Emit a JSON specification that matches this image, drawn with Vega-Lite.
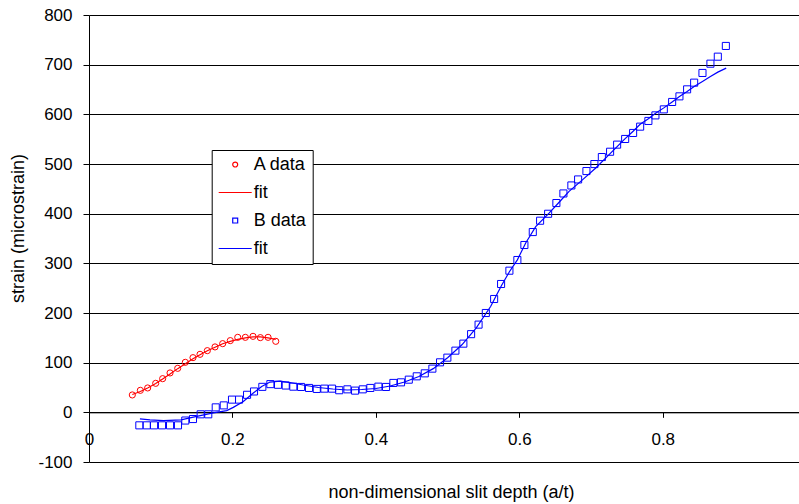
{
  "$schema": "https://vega.github.io/schema/vega-lite/v6.json",
  "autosize": {"type": "none"},
  "padding": {"left": 89, "top": 15, "right": 0, "bottom": 42},
  "width": 710,
  "height": 447,
  "background": "white",
  "config": {
    "view": {"stroke": null},
    "font": "Liberation Sans",
    "axis": {"labelFont": "Liberation Sans", "titleFont": "Liberation Sans", "labelColor": "#000", "titleColor": "#000", "titleFontWeight": "normal", "domainColor": "#000", "tickColor": "#000", "labelFontSize": 17, "titleFontSize": 18},
    "legend": {"labelFont": "Liberation Sans", "labelFontSize": 18, "labelColor": "#000"}
  },
  "data": {
    "values": [
      {"series": "A data", "x": 0.0604, "y": 35.0},
      {"series": "A data", "x": 0.0716, "y": 44.3},
      {"series": "A data", "x": 0.0818, "y": 49.1},
      {"series": "A data", "x": 0.0930, "y": 58.4},
      {"series": "A data", "x": 0.1027, "y": 67.8},
      {"series": "A data", "x": 0.1130, "y": 79.3},
      {"series": "A data", "x": 0.1237, "y": 88.6},
      {"series": "A data", "x": 0.1343, "y": 100.7},
      {"series": "A data", "x": 0.1450, "y": 110.1},
      {"series": "A data", "x": 0.1548, "y": 116.8},
      {"series": "A data", "x": 0.1650, "y": 124.2},
      {"series": "A data", "x": 0.1757, "y": 131.7},
      {"series": "A data", "x": 0.1864, "y": 138.3},
      {"series": "A data", "x": 0.1970, "y": 144.4},
      {"series": "A data", "x": 0.2074, "y": 151.0},
      {"series": "A data", "x": 0.2180, "y": 151.0},
      {"series": "A data", "x": 0.2287, "y": 153.0},
      {"series": "A data", "x": 0.2389, "y": 150.4},
      {"series": "A data", "x": 0.2497, "y": 151.0},
      {"series": "A data", "x": 0.2604, "y": 143.0},
      {"series": "A fit", "x": 0.0604, "y": 36},
      {"series": "A fit", "x": 0.0716, "y": 42},
      {"series": "A fit", "x": 0.0818, "y": 49},
      {"series": "A fit", "x": 0.0930, "y": 58},
      {"series": "A fit", "x": 0.1027, "y": 67},
      {"series": "A fit", "x": 0.1130, "y": 77},
      {"series": "A fit", "x": 0.1237, "y": 88},
      {"series": "A fit", "x": 0.1343, "y": 98},
      {"series": "A fit", "x": 0.1450, "y": 108},
      {"series": "A fit", "x": 0.1548, "y": 116},
      {"series": "A fit", "x": 0.1650, "y": 124},
      {"series": "A fit", "x": 0.1757, "y": 131},
      {"series": "A fit", "x": 0.1864, "y": 138},
      {"series": "A fit", "x": 0.1970, "y": 143},
      {"series": "A fit", "x": 0.2074, "y": 147},
      {"series": "A fit", "x": 0.2180, "y": 150},
      {"series": "A fit", "x": 0.2287, "y": 152},
      {"series": "A fit", "x": 0.2389, "y": 152},
      {"series": "A fit", "x": 0.2497, "y": 150},
      {"series": "A fit", "x": 0.2604, "y": 147},
      {"series": "B data", "x": 0.0702, "y": -26.2},
      {"series": "B data", "x": 0.0805, "y": -26.2},
      {"series": "B data", "x": 0.0907, "y": -26.2},
      {"series": "B data", "x": 0.1018, "y": -26.2},
      {"series": "B data", "x": 0.1130, "y": -26.2},
      {"series": "B data", "x": 0.1241, "y": -26.2},
      {"series": "B data", "x": 0.1343, "y": -16.5},
      {"series": "B data", "x": 0.1450, "y": -13.5},
      {"series": "B data", "x": 0.1557, "y": -4},
      {"series": "B data", "x": 0.1663, "y": -4},
      {"series": "B data", "x": 0.1767, "y": 10},
      {"series": "B data", "x": 0.1879, "y": 14},
      {"series": "B data", "x": 0.1994, "y": 25.6},
      {"series": "B data", "x": 0.2092, "y": 25.6},
      {"series": "B data", "x": 0.2204, "y": 35.3},
      {"series": "B data", "x": 0.2301, "y": 42},
      {"series": "B data", "x": 0.2417, "y": 51.3},
      {"series": "B data", "x": 0.2529, "y": 56.8},
      {"series": "B data", "x": 0.2636, "y": 55.5},
      {"series": "B data", "x": 0.2743, "y": 54},
      {"series": "B data", "x": 0.2849, "y": 51.7},
      {"series": "B data", "x": 0.2957, "y": 51.1},
      {"series": "B data", "x": 0.3068, "y": 49.1},
      {"series": "B data", "x": 0.3176, "y": 47.1},
      {"series": "B data", "x": 0.3282, "y": 47.7},
      {"series": "B data", "x": 0.3389, "y": 47.7},
      {"series": "B data", "x": 0.3489, "y": 44.5},
      {"series": "B data", "x": 0.3603, "y": 46.3},
      {"series": "B data", "x": 0.3710, "y": 43.7},
      {"series": "B data", "x": 0.3817, "y": 46.3},
      {"series": "B data", "x": 0.3923, "y": 49.1},
      {"series": "B data", "x": 0.4035, "y": 51.7},
      {"series": "B data", "x": 0.4142, "y": 51.1},
      {"series": "B data", "x": 0.4244, "y": 59.2},
      {"series": "B data", "x": 0.4351, "y": 60.4},
      {"series": "B data", "x": 0.4459, "y": 65.8},
      {"series": "B data", "x": 0.4570, "y": 72.5},
      {"series": "B data", "x": 0.4682, "y": 78.5},
      {"series": "B data", "x": 0.4788, "y": 88.0},
      {"series": "B data", "x": 0.4895, "y": 100.7},
      {"series": "B data", "x": 0.4997, "y": 110.1},
      {"series": "B data", "x": 0.5109, "y": 124.2},
      {"series": "B data", "x": 0.5220, "y": 138.3},
      {"series": "B data", "x": 0.5328, "y": 157.4},
      {"series": "B data", "x": 0.5432, "y": 176.6},
      {"series": "B data", "x": 0.5533, "y": 200.0},
      {"series": "B data", "x": 0.5649, "y": 228.2},
      {"series": "B data", "x": 0.5746, "y": 258.4},
      {"series": "B data", "x": 0.5862, "y": 285.2},
      {"series": "B data", "x": 0.5973, "y": 306.7},
      {"series": "B data", "x": 0.6071, "y": 336.9},
      {"series": "B data", "x": 0.6188, "y": 363.0},
      {"series": "B data", "x": 0.6290, "y": 385.8},
      {"series": "B data", "x": 0.6402, "y": 399.8},
      {"series": "B data", "x": 0.6517, "y": 421.4},
      {"series": "B data", "x": 0.6615, "y": 440.7},
      {"series": "B data", "x": 0.6726, "y": 456.8},
      {"series": "B data", "x": 0.6820, "y": 468.9},
      {"series": "B data", "x": 0.6936, "y": 485.8},
      {"series": "B data", "x": 0.7047, "y": 499.9},
      {"series": "B data", "x": 0.7151, "y": 514.0},
      {"series": "B data", "x": 0.7266, "y": 524.7},
      {"series": "B data", "x": 0.7364, "y": 539.0},
      {"series": "B data", "x": 0.7476, "y": 550.4},
      {"series": "B data", "x": 0.7587, "y": 562.5},
      {"series": "B data", "x": 0.7685, "y": 575.2},
      {"series": "B data", "x": 0.7800, "y": 586.7},
      {"series": "B data", "x": 0.7898, "y": 597.9},
      {"series": "B data", "x": 0.8015, "y": 610.0},
      {"series": "B data", "x": 0.8131, "y": 624.9},
      {"series": "B data", "x": 0.8233, "y": 636.2},
      {"series": "B data", "x": 0.8340, "y": 650.3},
      {"series": "B data", "x": 0.8438, "y": 663.8},
      {"series": "B data", "x": 0.8554, "y": 683.3},
      {"series": "B data", "x": 0.8665, "y": 702.0},
      {"series": "B data", "x": 0.8768, "y": 716.1},
      {"series": "B data", "x": 0.8880, "y": 737.7},
      {"series": "B fit", "x": 0.0710, "y": -13},
      {"series": "B fit", "x": 0.0850, "y": -15},
      {"series": "B fit", "x": 0.1040, "y": -16.5},
      {"series": "B fit", "x": 0.1283, "y": -15},
      {"series": "B fit", "x": 0.1502, "y": -8},
      {"series": "B fit", "x": 0.1733, "y": -1},
      {"series": "B fit", "x": 0.1920, "y": 3.5},
      {"series": "B fit", "x": 0.2012, "y": 10},
      {"series": "B fit", "x": 0.2152, "y": 22},
      {"series": "B fit", "x": 0.2291, "y": 39},
      {"series": "B fit", "x": 0.2408, "y": 52},
      {"series": "B fit", "x": 0.2524, "y": 61},
      {"series": "B fit", "x": 0.2664, "y": 63},
      {"series": "B fit", "x": 0.2803, "y": 60},
      {"series": "B fit", "x": 0.2985, "y": 55},
      {"series": "B fit", "x": 0.3200, "y": 50},
      {"series": "B fit", "x": 0.3400, "y": 47},
      {"series": "B fit", "x": 0.3600, "y": 45},
      {"series": "B fit", "x": 0.3800, "y": 46},
      {"series": "B fit", "x": 0.4000, "y": 48},
      {"series": "B fit", "x": 0.4200, "y": 53},
      {"series": "B fit", "x": 0.4400, "y": 61},
      {"series": "B fit", "x": 0.4600, "y": 72},
      {"series": "B fit", "x": 0.4800, "y": 88},
      {"series": "B fit", "x": 0.5000, "y": 110},
      {"series": "B fit", "x": 0.5200, "y": 136},
      {"series": "B fit", "x": 0.5400, "y": 170},
      {"series": "B fit", "x": 0.5600, "y": 213},
      {"series": "B fit", "x": 0.5750, "y": 255},
      {"series": "B fit", "x": 0.5862, "y": 283},
      {"series": "B fit", "x": 0.5973, "y": 307},
      {"series": "B fit", "x": 0.6089, "y": 341},
      {"series": "B fit", "x": 0.6229, "y": 374},
      {"series": "B fit", "x": 0.6415, "y": 401},
      {"series": "B fit", "x": 0.6555, "y": 423},
      {"series": "B fit", "x": 0.6694, "y": 445},
      {"series": "B fit", "x": 0.6880, "y": 468},
      {"series": "B fit", "x": 0.7066, "y": 492},
      {"series": "B fit", "x": 0.7252, "y": 519},
      {"series": "B fit", "x": 0.7364, "y": 535},
      {"series": "B fit", "x": 0.7476, "y": 551},
      {"series": "B fit", "x": 0.7587, "y": 566},
      {"series": "B fit", "x": 0.7685, "y": 580},
      {"series": "B fit", "x": 0.7800, "y": 591},
      {"series": "B fit", "x": 0.7900, "y": 602},
      {"series": "B fit", "x": 0.8015, "y": 613},
      {"series": "B fit", "x": 0.8131, "y": 625},
      {"series": "B fit", "x": 0.8233, "y": 636},
      {"series": "B fit", "x": 0.8340, "y": 646},
      {"series": "B fit", "x": 0.8438, "y": 656},
      {"series": "B fit", "x": 0.8554, "y": 666},
      {"series": "B fit", "x": 0.8665, "y": 676},
      {"series": "B fit", "x": 0.8768, "y": 685},
      {"series": "B fit", "x": 0.8885, "y": 693}
    ]
  },
  "encoding": {
    "x": {
      "field": "x", "type": "quantitative",
      "scale": {"domain": [0, 0.99], "nice": false, "zero": false},
      "axis": {
        "title": "non-dimensional slit depth (a/t)",
        "values": [0, 0.2, 0.4, 0.6, 0.8],
        "labelExpr": "datum.value == 0 ? '0' : format(datum.value, '.1f')",
        "offset": -49.67,
        "grid": false,
        "tickSize": 5,
        "labelBaseline": "middle",
        "labelPadding": 22,
        "labelFlush": false,
        "titleX": 362,
        "titleY": 80,
        "titleBaseline": "middle"
      }
    },
    "y": {
      "field": "y", "type": "quantitative",
      "scale": {"domain": [-100, 800], "nice": false, "zero": false},
      "axis": {
        "title": "strain (microstrain)",
        "values": [-100, 0, 100, 200, 300, 400, 500, 600, 700, 800],
        "labelExpr": "'' + datum.value",
        "grid": true,
        "gridColor": "#000",
        "gridWidth": 1,
        "tickSize": 6,
        "labelPadding": 11,
        "labelFlush": false,
        "titleAngle": -90,
        "titleX": -71,
        "titleY": 213,
        "titleBaseline": "middle",
        "titleAlign": "center"
      }
    },
    "color": {
      "field": "series", "type": "nominal",
      "scale": {"domain": ["A data", "A fit", "B data", "B fit"], "range": ["#ff0000", "#ff0000", "#0000ff", "#0000ff"]},
      "legend": {
        "title": null,
        "orient": "none",
        "legendX": 122.7,
        "legendY": 135,
        "fillColor": "white",
        "strokeColor": "#000",
        "padding": 6,
        "clipHeight": 17,
        "rowPadding": 9,
        "symbolSize": 1089,
        "symbolStrokeWidth": 1.2,
        "labelOffset": 1,
        "labelExpr": "indexof(datum.label, 'fit') >= 0 ? 'fit' : datum.label",
        "encode": {
          "symbols": {
            "update": {
              "shape": {"signal": "indexof(datum.value, 'fit') >= 0 ? 'M-1,0H1' : (datum.value == 'A data' ? 'M-0.15,0A0.15,0.15 0 1,0 0.15,0A0.15,0.15 0 1,0 -0.15,0Z' : 'M-0.15,-0.15H0.15V0.15H-0.15Z')"},
              "stroke": {"signal": "indexof(datum.value, 'A') == 0 ? '#ff0000' : '#0000ff'"},
              "fill": {"value": "transparent"},
              "opacity": {"value": 1}
            }
          }
        }
      }
    }
  },
  "layer": [
    {
      "transform": [{"filter": "datum.series == 'A fit' || datum.series == 'B fit'"}],
      "mark": {"type": "line", "strokeWidth": 1.2}
    },
    {
      "transform": [{"filter": "datum.series == 'A data'"}],
      "mark": {"type": "point", "shape": "circle", "filled": false, "size": 38, "strokeWidth": 1, "opacity": 1}
    },
    {
      "transform": [{"filter": "datum.series == 'B data'"}],
      "mark": {"type": "point", "shape": "square", "filled": false, "size": 50, "strokeWidth": 1, "opacity": 1}
    }
  ]
}
